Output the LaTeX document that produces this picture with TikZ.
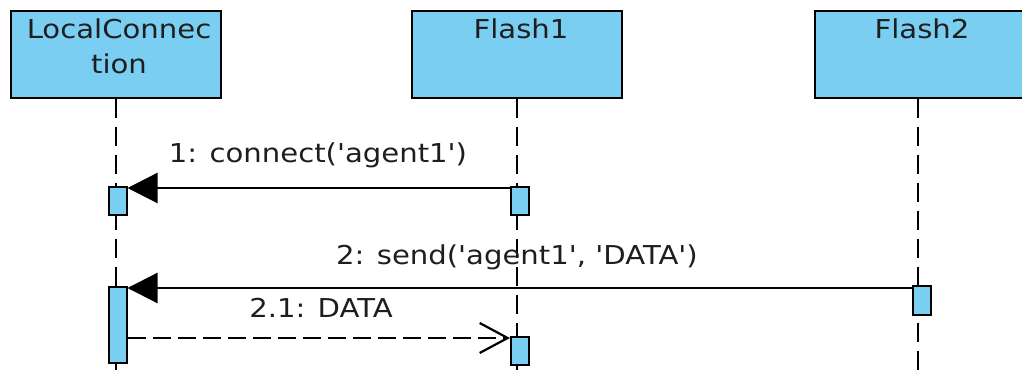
\documentclass[tikz,border=0pt]{standalone}
\usepackage{fontspec}
\setmainfont{DejaVu Sans}[FakeStretch=1.12, Ligatures=TeXOff]
\usetikzlibrary{arrows.meta}
\definecolor{boxblue}{RGB}{122,206,242}
\definecolor{txt}{RGB}{30,30,30}
\tikzset{
  lbl/.style={font=\fontsize{26}{30}\selectfont, text=txt, inner sep=0pt, anchor=base},
  head/.style={draw=black, fill=boxblue, line width=2.2pt, minimum width=210pt, minimum height=87pt, inner sep=0pt},
  act/.style={draw=black, fill=boxblue, line width=2pt, minimum width=18pt, inner sep=0pt},
  life/.style={draw=black, line width=2.2pt, dash pattern=on 19pt off 9pt},
  sync/.style={draw=black, line width=2.2pt, -{Triangle[length=30pt,width=30pt]}},
  reply/.style={draw=black, line width=2.2pt, dash pattern=on 18pt off 7pt, -{Straight Barb[length=28pt,width=30pt,line width=2.2pt]}}
}
\begin{document}
\begin{tikzpicture}[x=1pt,y=-1pt]
\useasboundingbox (0,0) rectangle (1022,379);
\begin{scope}
\clip (0,0) rectangle (1022,379);
% heads
\node[head] (lc) at (116,54.5) {};
\node[head] (f1) at (517,54.5) {};
\node[head] (f2) at (920,54.5) {};
\node[lbl] (lct1) at (119,39) {LocalConnec};
\node[lbl] (lct2) at (119,74) {tion};
\node[lbl] (f1t) at (521,39) {Flash1};
\node[lbl] (f2t) at (922,39) {Flash2};
% lifelines
\coordinate (lcend) at (116,379);
\coordinate (f1end) at (517,379);
\coordinate (f2end) at (918,379);
\draw[life] (lc.south) -- (lcend);
\draw[life] (lc.south -| f1end) -- (f1end);
\draw[life] (lc.south -| f2end) -- (f2end);
\end{scope}
% activations
\node[act, minimum height=28pt] (a1) at (117.5,201) {};
\node[act, minimum height=28pt] (b1) at (520,201) {};
\node[act, minimum height=76pt] (a2) at (117.5,325) {};
\node[act, minimum height=28pt] (b2) at (520,351) {};
\node[act, minimum height=29pt] (c1) at (921.5,300.5) {};
% messages
\draw[sync] (b1.west |- 0,188) -- (a1.east |- 0,188);
\draw[sync] (c1.west |- 0,288) -- (a2.east |- 0,288);
\draw[reply] (a2.east |- 0,338) -- (b2.west |- 0,338);
\node[lbl] (m1) at (318,163) {1: connect('agent1')};
\node[lbl] (m2) at (517,265) {2: send('agent1', 'DATA')};
\node[lbl] (m3) at (321,317) {2.1: DATA};
\end{tikzpicture}
\end{document}
